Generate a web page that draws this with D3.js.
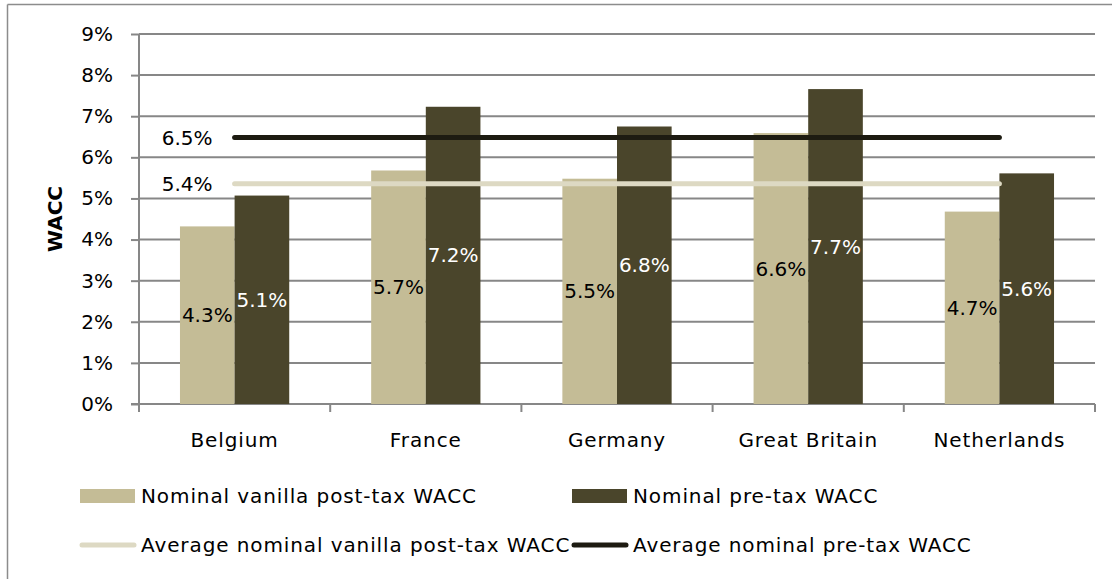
<!DOCTYPE html>
<html>
<head>
<meta charset="utf-8">
<script src="https://cdn.jsdelivr.net/npm/d3@7"></script>
<style>
  body { margin: 0; background: #fff; }
  text { font-family: "DejaVu Sans", sans-serif; fill: #000; }
  .word { letter-spacing: 0.9px; }
</style>
</head>
<body>
<div id="graph"></div>
<script>
var countries = ["Belgium", "France", "Germany", "Great Britain", "Netherlands"];
var postTax = [4.32, 5.68, 5.48, 6.59, 4.68];
var preTax = [5.07, 7.23, 6.75, 7.66, 5.61];
var postTaxLabels = ["4.3%", "5.7%", "5.5%", "6.6%", "4.7%"];
var preTaxLabels = ["5.1%", "7.2%", "6.8%", "7.7%", "5.6%"];
var avgPostTax = 5.36, avgPostTaxLabel = "5.4%";
var avgPreTax = 6.48, avgPreTaxLabel = "6.5%";
var yTicks = [0, 1, 2, 3, 4, 5, 6, 7, 8, 9];
var seriesNames = ["Nominal vanilla post-tax WACC", "Nominal pre-tax WACC"];
var lineNames = ["Average nominal vanilla post-tax WACC", "Average nominal pre-tax WACC"];

var W = 1112, H = 579;
var margin = {top: 34, right: 17, bottom: 175, left: 139};
var width = W - margin.left - margin.right,
    height = H - margin.top - margin.bottom;

var lightCol = "#c4bc96", darkCol = "#4a452b",
    avgLight = "#ddd9c3", avgDark = "#1d1b11", gridCol = "#878787";
var fontSize = 20;

var svg = d3.select("#graph").append("svg")
    .attr("width", W).attr("height", H);

// outer frame (top and left edges visible)
svg.append("line").attr("x1", 7.5).attr("x2", W).attr("y1", 4.5).attr("y2", 4.5)
   .attr("stroke", "#8c8c8c").attr("stroke-width", 1.5);
svg.append("line").attr("x1", 7.5).attr("x2", 7.5).attr("y1", 4.5).attr("y2", H)
   .attr("stroke", "#8c8c8c").attr("stroke-width", 1.5);

var g = svg.append("g").attr("transform", "translate(" + margin.left + "," + margin.top + ")");

var y = d3.scaleLinear().domain([0, 9]).range([height, 0]);
var x0 = d3.scaleBand().domain(countries).range([0, width]).padding(0);
var barW = x0.step() / 3.5;
var x1 = d3.scaleBand().domain([0, 1])
    .range([x0.bandwidth() / 2 - barW, x0.bandwidth() / 2 + barW]);

// gridlines
g.append("g").selectAll("line").data(yTicks.slice(1)).enter().append("line")
  .attr("x1", 0).attr("x2", width)
  .attr("y1", function(d){ return y(d); }).attr("y2", function(d){ return y(d); })
  .attr("stroke", gridCol).attr("stroke-width", 2);

// y axis
var yAxis = g.append("g")
  .call(d3.axisLeft(y).tickValues(yTicks).tickSize(8).tickPadding(18)
        .tickFormat(function(d){ return d + "%"; }));
yAxis.select(".domain").remove();
yAxis.selectAll(".tick line").attr("stroke", gridCol).attr("stroke-width", 2);
yAxis.selectAll(".tick text").attr("font-size", fontSize).attr("fill", "#000")
  .style("font-family", "'DejaVu Sans', sans-serif");
g.append("line").attr("x1", 0).attr("x2", 0).attr("y1", 0).attr("y2", height)
  .attr("stroke", gridCol).attr("stroke-width", 2);

// x axis
var xb = g.append("g").attr("transform", "translate(0," + height + ")");
xb.append("line").attr("x1", -8).attr("x2", width).attr("stroke", gridCol).attr("stroke-width", 2);
xb.selectAll(".xt").data(d3.range(countries.length + 1)).enter().append("line")
  .attr("x1", function(i){ return i * x0.step(); })
  .attr("x2", function(i){ return i * x0.step(); })
  .attr("y1", 0).attr("y2", 8)
  .attr("stroke", gridCol).attr("stroke-width", 2);
xb.selectAll(".xl").data(countries).enter().append("text")
  .attr("class", "word")
  .attr("x", function(d){ return x0(d) + x0.bandwidth() / 2; })
  .attr("y", 36).attr("dy", "0.35em")
  .attr("text-anchor", "middle").attr("font-size", fontSize)
  .text(function(d){ return d; });

// axis title
svg.append("text")
  .attr("transform", "translate(55," + (margin.top + height / 2) + ") rotate(-90)")
  .attr("dy", "0.35em")
  .attr("text-anchor", "middle").attr("font-size", fontSize).attr("font-weight", "bold")
  .text("WACC");

// bars
var rows = countries.map(function(c, i){
  return {c: c, vals: [
    {s: 0, v: postTax[i], lab: postTaxLabels[i]},
    {s: 1, v: preTax[i], lab: preTaxLabels[i]}
  ]};
});
var groups = g.append("g").selectAll("g").data(rows).enter().append("g")
  .attr("transform", function(d){ return "translate(" + x0(d.c) + ",0)"; });
groups.selectAll("rect").data(function(d){ return d.vals; }).enter().append("rect")
  .attr("x", function(d){ return x1(d.s); })
  .attr("width", x1.bandwidth())
  .attr("y", function(d){ return y(d.v); })
  .attr("height", function(d){ return height - y(d.v); })
  .attr("fill", function(d){ return d.s == 0 ? lightCol : darkCol; });
groups.selectAll("text").data(function(d){ return d.vals; }).enter().append("text")
  .attr("x", function(d){ return x1(d.s) + x1.bandwidth() / 2; })
  .attr("y", function(d){ return (y(d.v) + height) / 2; })
  .attr("dy", "0.35em")
  .attr("text-anchor", "middle").attr("font-size", fontSize)
  .style("fill", function(d){ return d.s == 0 ? "#000" : "#fff"; })
  .text(function(d){ return d.lab; });

// average lines
var xs = x0(countries[0]) + x0.bandwidth() / 2,
    xe = x0(countries[countries.length - 1]) + x0.bandwidth() / 2;
[[avgPostTax, avgPostTaxLabel, avgLight], [avgPreTax, avgPreTaxLabel, avgDark]].forEach(function(a){
  g.append("line").attr("x1", xs).attr("x2", xe)
    .attr("y1", y(a[0])).attr("y2", y(a[0]))
    .attr("stroke", a[2]).attr("stroke-width", 5).attr("stroke-linecap", "round");
  g.append("text").attr("x", xs - 22).attr("y", y(a[0])).attr("dy", "0.35em")
    .attr("text-anchor", "end").attr("font-size", fontSize).text(a[1]);
});

// legend
var leg = svg.append("g");
var legX = [80, 572];
seriesNames.forEach(function(n, i){
  leg.append("rect").attr("x", legX[i]).attr("y", 489).attr("width", 55).attr("height", 14)
    .attr("fill", i == 0 ? lightCol : darkCol);
  leg.append("text").attr("class", "word").attr("x", legX[i] + 61).attr("y", 496).attr("dy", "0.35em")
    .attr("font-size", fontSize).text(n);
});
lineNames.forEach(function(n, i){
  leg.append("line").attr("x1", legX[i] + 2).attr("x2", legX[i] + 54)
    .attr("y1", 545).attr("y2", 545)
    .attr("stroke", i == 0 ? avgLight : avgDark).attr("stroke-width", 5).attr("stroke-linecap", "round");
  leg.append("text").attr("class", "word").attr("x", legX[i] + 61).attr("y", 545).attr("dy", "0.35em")
    .attr("font-size", fontSize).text(n);
});
</script>
</body>
</html>
